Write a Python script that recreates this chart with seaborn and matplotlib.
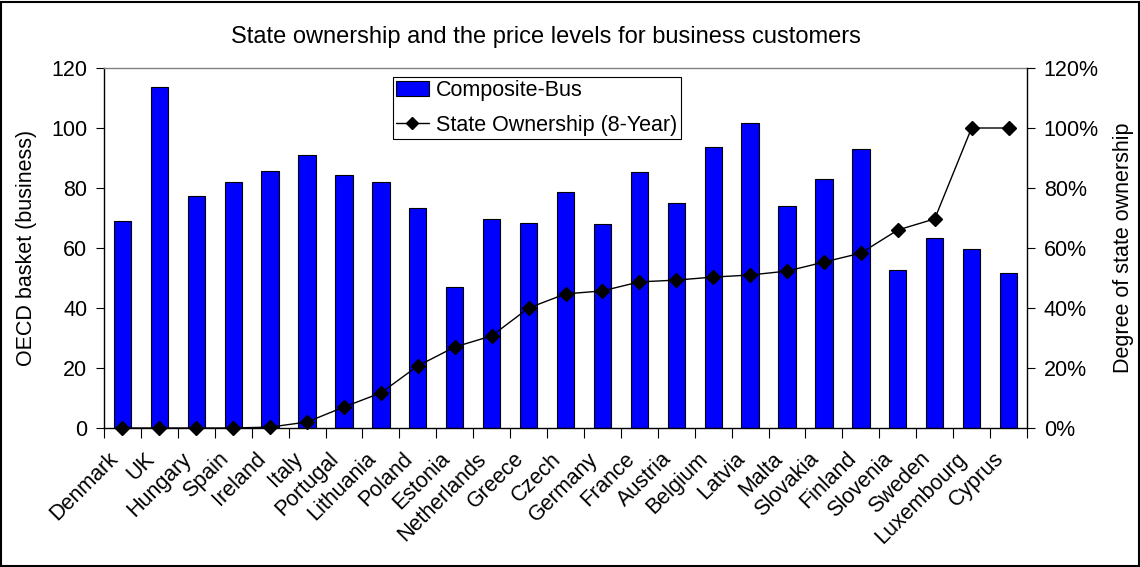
import matplotlib
matplotlib.use("Agg")
import matplotlib.pyplot as plt
import matplotlib.transforms as mtransforms
import seaborn as sns
import numpy as np
import pandas as pd
from matplotlib.ticker import FuncFormatter, FixedLocator, NullFormatter
from matplotlib.lines import Line2D
from matplotlib.patches import Patch, Rectangle

countries = ["Denmark", "UK", "Hungary", "Spain", "Ireland", "Italy", "Portugal",
             "Lithuania", "Poland", "Estonia", "Netherlands", "Greece", "Czech",
             "Germany", "France", "Austria", "Belgium", "Latvia", "Malta",
             "Slovakia", "Finland", "Slovenia", "Sweden", "Luxembourg", "Cyprus"]
composite_bus = [69, 113.7, 77.3, 82, 85.7, 91, 84.3, 82, 73.3, 47, 69.7, 68.3,
                 78.7, 68, 85.3, 75, 93.7, 101.7, 74, 83, 93, 52.7, 63.3, 59.7, 51.7]
state_ownership = [0, 0, 0, 0, 0.3, 2, 7, 11.7, 20.7, 27, 30.7, 40, 44.7, 45.7,
                   48.7, 49.3, 50.3, 51, 52.3, 55.3, 58.3, 66, 69.7, 100, 100]

sns.set_theme(style="white")
plt.rcParams['font.family'] = ['Liberation Sans', 'DejaVu Sans']
plt.rcParams['text.color'] = 'black'
plt.rcParams['axes.labelcolor'] = 'black'
plt.rcParams['xtick.color'] = 'black'
plt.rcParams['ytick.color'] = 'black'

FS = 15.5
fig = plt.figure(figsize=(11.4, 5.67), dpi=100)
L, R, T, B = 104, 1027, 68, 428
ax = fig.add_axes([L/1140, 1 - B/567, (R-L)/1140, (B-T)/567])

df = pd.DataFrame({"country": countries, "value": composite_bus})
sns.barplot(data=df, x="country", y="value", color="#0000FF", edgecolor="black",
            linewidth=0.8, width=0.47, saturation=1, ax=ax)

n = len(countries)
ax.set_xlim(-0.5, n - 0.5)
ax.set_ylim(0, 120)
ax.set_yticks(np.arange(0, 121, 20))
ax.set_xlabel("")
ax.set_ylabel("OECD basket (business)", fontsize=FS, labelpad=10)
ax.tick_params(axis="y", direction="out", length=6, width=0.8, labelsize=FS, left=True, pad=6)
ax.set_xticks(range(n))
ax.set_xticklabels(countries, rotation=45, ha="right", va="center",
                   rotation_mode="anchor", fontsize=FS)
ax.tick_params(axis="x", which="major", length=0, pad=20)
offset = mtransforms.ScaledTranslation(-8/100, 0, fig.dpi_scale_trans)
for lbl in ax.get_xticklabels():
    lbl.set_transform(lbl.get_transform() + offset)
ax.xaxis.set_minor_locator(FixedLocator(np.arange(-0.5, n, 1.0)))
ax.xaxis.set_minor_formatter(NullFormatter())
ax.tick_params(axis="x", which="minor", direction="out", length=7, width=0.8, bottom=True)
for s in ["left", "bottom"]:
    ax.spines[s].set_color("black")
    ax.spines[s].set_linewidth(1)
ax.spines["top"].set_color("#808080")
ax.spines["top"].set_linewidth(1)
ax.spines["right"].set_visible(False)

ax2 = ax.twinx()
ax2.plot(range(n), state_ownership, color="black", linewidth=1, marker="D",
         markersize=7, markerfacecolor="black", markeredgecolor="black", clip_on=False, zorder=5)
ax2.set_ylim(0, 120)
ax2.set_yticks(np.arange(0, 121, 20))
ax2.yaxis.set_major_formatter(FuncFormatter(lambda v, p: f"{int(v)}%"))
ax2.tick_params(axis="y", direction="out", length=6, width=0.8, labelsize=FS, right=True, pad=6)
ax2.set_ylabel("Degree of state ownership", fontsize=FS, labelpad=10)
for s in ["left", "bottom", "top"]:
    ax2.spines[s].set_visible(False)
ax2.spines["right"].set_color("black")
ax2.spines["right"].set_linewidth(1)
ax2.set_xlim(-0.5, n - 0.5)

fig.text((232 + 860) / 2 / 1140, 1 - 37/567,
         "State ownership and the price levels for business customers",
         fontsize=17, ha="center", va="center")

handles = [Patch(facecolor="#0000FF", edgecolor="black", linewidth=0.8),
           Line2D([0], [0], color="black", linewidth=1, marker="D", markersize=6)]
leg = ax2.legend(handles, ["Composite-Bus", "State Ownership (8-Year)"],
                 loc="upper left", bbox_to_anchor=((393-L)/(R-L), (B-77)/(B-T)),
                 fontsize=FS, frameon=True, fancybox=False, edgecolor="black",
                 framealpha=1, borderpad=0.15, labelspacing=0.62, handlelength=1.5,
                 handletextpad=0.35, borderaxespad=0)
leg.get_frame().set_linewidth(0.8)

fig.patches.append(Rectangle((0.001, 0.002), 0.998, 0.994, transform=fig.transFigure,
                             fill=False, edgecolor="black", linewidth=1.5))

fig.savefig("out.png", dpi=100)
